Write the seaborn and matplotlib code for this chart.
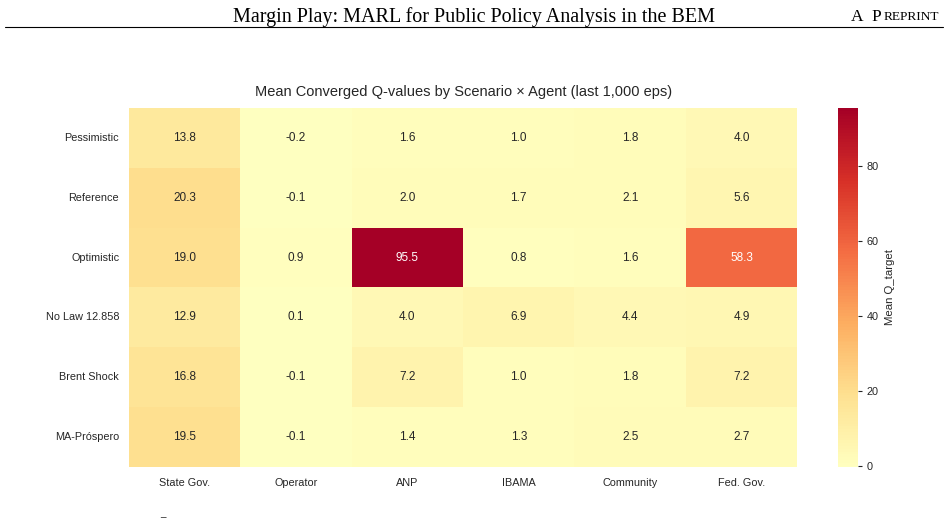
import numpy as np
import pandas as pd
import matplotlib
matplotlib.use("Agg")
import matplotlib.pyplot as plt
import seaborn as sns

# data
scenarios = ["Pessimistic", "Reference", "Optimistic", "No Law 12.858", "Brent Shock", "MA-Próspero"]
agents = ["State Gov.", "Operator", "ANP", "IBAMA", "Community", "Fed. Gov."]
state_gov = [13.8, 20.3, 19.0, 12.9, 16.8, 19.5]
operator = [-0.2, -0.1, 0.9, 0.1, -0.1, -0.1]
anp = [1.6, 2.0, 95.5, 4.0, 7.2, 1.4]
ibama = [1.0, 1.7, 0.8, 6.9, 1.0, 1.3]
community = [1.8, 2.1, 1.6, 4.4, 1.8, 2.5]
fed_gov = [4.0, 5.6, 58.3, 4.9, 7.2, 2.7]

df = pd.DataFrame(
    np.column_stack([state_gov, operator, anp, ibama, community, fed_gov]),
    index=scenarios, columns=agents,
)

sns.set_theme(style="white")
plt.rcParams["font.family"] = ["Liberation Sans", "DejaVu Sans"]

fig = plt.figure(figsize=(9.48, 5.18), dpi=100)
ax = fig.add_axes([0.136, 0.0985, 0.705, 0.693])
cax = fig.add_axes([0.884, 0.0985, 0.021, 0.693])

sns.heatmap(df, ax=ax, cbar_ax=cax, cmap="RdYlBu_r", center=0, annot=True, fmt=".1f",
            annot_kws={"fontsize": 8.5}, cbar_kws={"label": "Mean Q_target"})

ax.set_title("Mean Converged Q-values by Scenario × Agent (last 1,000 eps)",
             fontsize=10.5, color="#262626", pad=9)
ax.tick_params(axis="both", length=0, labelsize=7.8, colors="#262626")
ax.tick_params(axis="x", pad=8)
ax.tick_params(axis="y", pad=7)
plt.setp(ax.get_yticklabels(), rotation=0)
plt.setp(ax.get_xticklabels(), rotation=0)
ax.set_xlabel("")
ax.set_ylabel("")

cax.tick_params(labelsize=7.8, length=3, width=0.8, colors="#262626")
cax.set_ylabel("Mean Q_target", fontsize=8.2, color="#262626")
cax.set_yticks([0, 20, 40, 60, 80])

# page header from the paper
fig.text(0.5, 0.968, "Margin Play: MARL for Public Policy Analysis in the BEM",
         ha="center", va="center", fontsize=14.5, family="Liberation Serif", color="black")
fig.text(0.8975, 0.968, "A", ha="left", va="center", fontsize=12.5,
         family="Liberation Serif", color="black")
fig.text(0.919, 0.968, "P", ha="left", va="center", fontsize=12.5,
         family="Liberation Serif", color="black")
fig.text(0.9318, 0.968, "REPRINT", ha="left", va="center", fontsize=9.6,
         family="Liberation Serif", color="black")
fig.add_artist(plt.Line2D([0.005, 0.995], [0.948, 0.948], color="black", lw=0.8))
fig.text(0.169, 0.004, "_", fontsize=7, color="#262626")

fig.savefig("out.png", dpi=100)
